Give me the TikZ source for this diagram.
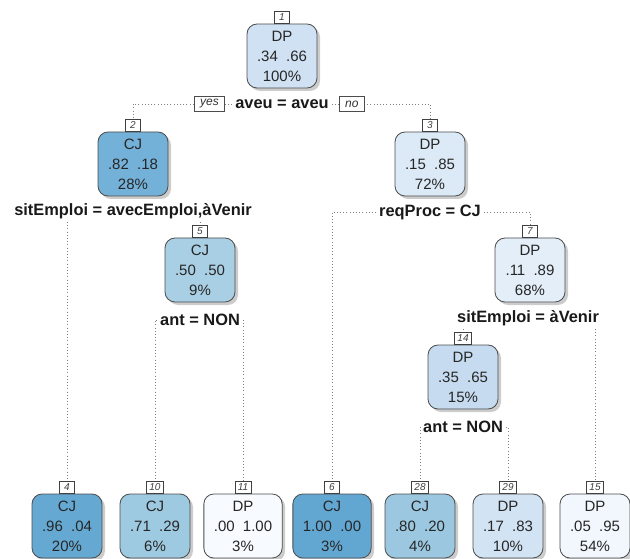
\documentclass[tikz,border=0pt]{standalone}
\usepackage{fontspec}
\setmainfont{Liberation Sans}
\usepackage{tikz}
\usetikzlibrary{positioning,shadows}

\definecolor{fillA}{HTML}{CFE1F2}
\definecolor{fillB}{HTML}{74B1D8}
\definecolor{fillC}{HTML}{DCE9F6}
\definecolor{fillE}{HTML}{A9CFE5}
\definecolor{fillG}{HTML}{E3EEF9}
\definecolor{fillN}{HTML}{C6DBEF}
\definecolor{fillD}{HTML}{65A9D3}
\definecolor{fillJ}{HTML}{9ECAE1}
\definecolor{fillK}{HTML}{F7FBFF}
\definecolor{fillF}{HTML}{62A7D2}
\definecolor{fillR}{HTML}{9BC8E0}
\definecolor{fillS}{HTML}{D2E3F3}
\definecolor{fillO}{HTML}{F1F7FD}

\newcommand{\twosp}{\hspace{0.55em}}

\begin{document}
\begin{tikzpicture}[
	x=1pt, y=-1pt,
	node distance=0pt,
	dl/.style={draw=black!50, line width=0.8pt, dash pattern=on 0.8pt off 2.4pt},
	tnode/.style={
	  draw=black!70,
	  line width=0.8pt,
	  rounded corners=10pt,
	  fill=#1,
	  minimum width=70pt,
	  minimum height=64pt,
	  inner xsep=10pt,
	  align=center,
	  font=\fontsize{15}{20}\selectfont,
	  text=black!85,
	  drop shadow={shadow xshift=3pt, shadow yshift=-3pt, fill=black, opacity=0.2}
	  },
	nlab/.style={
	  draw=black!75,
	  fill=white,
	  line width=0.6pt,
	  inner xsep=3pt,
	  inner ysep=0pt,
	  minimum width=15pt,
	  minimum height=12pt,
	  font=\fontsize{10}{10}\itshape\selectfont,
	  text=black!75
	  },
	split/.style={font=\fontsize{16.4}{18}\bfseries\selectfont, inner sep=3pt, text=black!90},
	yn/.style={
	  draw=black!70,
	  fill=white,
	  line width=0.6pt,
	  inner xsep=6pt,
	  inner ysep=0pt,
	  minimum height=15pt,
	  font=\fontsize{12}{12}\itshape\selectfont,
	  text=black!80
	  }
	]
	\useasboundingbox (0,0) rectangle (630,559);

	% inner nodes
	\node[tnode=fillA] (n1) at (282,56) {DP\\.34\twosp.66\\100\%};
	\node[tnode=fillB] (n2) at (133,164) {CJ\\.82\twosp.18\\28\%};
	\node[tnode=fillC] (n3) at (430,164) {DP\\.15\twosp.85\\72\%};
	\node[tnode=fillE] (n5) at (200,270) {CJ\\.50\twosp.50\\9\%};
	\node[tnode=fillG] (n7) at (530,270) {DP\\.11\twosp.89\\68\%};
	\node[tnode=fillN] (n14) at (463,377) {DP\\.35\twosp.65\\15\%};

	% leaves
	\node[tnode=fillD] (n4) at (67,526) {CJ\\.96\twosp.04\\20\%};
	\node[tnode=fillJ] (n10) at (155,526) {CJ\\.71\twosp.29\\6\%};
	\node[tnode=fillK] (n11) at (243,526) {DP\\.00\twosp1.00\\3\%};
	\node[tnode=fillF] (n6) at (332,526) {CJ\\1.00\twosp.00\\3\%};
	\node[tnode=fillR] (n28) at (420,526) {CJ\\.80\twosp.20\\4\%};
	\node[tnode=fillS] (n29) at (508,526) {DP\\.17\twosp.83\\10\%};
	\node[tnode=fillO] (n15) at (595,526) {DP\\.05\twosp.95\\54\%};

	% node numbers
	\foreach \k in {1,2,3,5,7,14,4,10,11,6,28,29,15}
		\node[nlab, above=of n\k] (l\k) {\k};

	% split labels
	\node[split] (s1) at (282,104) {aveu = aveu};
	\node[split] (s2) at (133,211) {sitEmploi = avecEmploi,àVenir};
	\node[split] (s3) at (430,212) {reqProc = CJ};
	\node[split] (s5) at (200,320) {ant = NON};
	\node[split] (s7) at (528,318) {sitEmploi = àVenir};
	\node[split] (s14) at (463,427) {ant = NON};

	\draw[dl] (s1.west) -| (l2.north);
	\draw[dl] (s1.east) -| (l3.north);
	\draw[dl] (l4.north |- s2.south) -- (l4.north);
	\draw[dl] (l5.north |- s2.south) -- (l5.north);
	\draw[dl] (s3.west) -| (l6.north);
	\draw[dl] (s3.east) -| (l7.north);
	\draw[dl] (s5.west) -| (l10.north);
	\draw[dl] (s5.east) -| (l11.north);
	\draw[dl] (l14.north |- s7.south) -- (l14.north);
	\draw[dl] (l15.north |- s7.south) -- (l15.north);
	\draw[dl] (s14.west) -| (l28.north);
	\draw[dl] (s14.east) -| (l29.north);

	\node[yn, left=7pt of s1] (yes) {yes};
	\node[yn, right=7pt of s1] (no) {no};
\end{tikzpicture}
\end{document}
